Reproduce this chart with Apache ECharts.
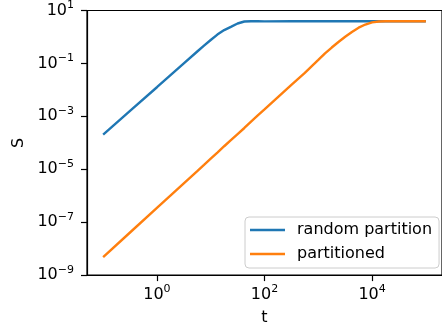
<!DOCTYPE html>
<html>
<head>
<meta charset="utf-8">
<script src="https://cdn.jsdelivr.net/npm/echarts@6/dist/echarts.min.js"></script>
<style>
  html, body { margin: 0; padding: 0; background: #fff; }
  #chart { width: 442px; height: 331px; }
</style>
</head>
<body>
<div id="chart"></div>
<script>
// time points (t) shared by both curves
const tValues = [0.1, 0.316, 1, 3.16, 5.62, 7.5, 10, 13.3, 17.8, 23.7, 31.6, 42.2, 56.2, 75, 100, 316, 562,
    1000, 1333, 1778, 2371, 3162, 4217, 5623, 7499, 10000, 13335, 17783, 31623, 100000];

// S for "random partition"
const randomS = [2.04e-4, 1.62e-3, 0.0126, 0.1, 0.282, 0.468, 0.77, 1.23, 1.82, 2.42, 3.23, 3.84, 3.94, 3.94, 3.88, 3.94, 3.92,
    3.94, 3.94, 3.92, 3.94, 3.93, 3.94, 3.94, 3.93, 3.94, 3.94, 3.94, 3.94, 3.94];

// S for "partitioned"
const partitionedS = [4.79e-9, 4.07e-8, 3.47e-7, 2.95e-6, 8.51e-6, 1.46e-5, 2.51e-5, 4.27e-5, 7.41e-5, 1.26e-4, 2.14e-4, 3.63e-4, 6.31e-4, 1.08e-3, 1.82e-3, 0.0155, 0.0437,
    0.135, 0.24, 0.398, 0.646, 1.02, 1.55, 2.24, 2.95, 3.55, 3.85, 3.94, 3.94, 3.94];

const xTicks = [1, 100, 10000];
const yTicks = [1e-9, 1e-7, 1e-5, 1e-3, 1e-1, 10];

const seriesNames = ['random partition', 'partitioned'];
const colors = ['#1f77b4', '#ff7f0e'];

function pairs(ys) {
    return tValues.map((t, i) => [t, ys[i]]);
}

// 10^n with a raised exponent
function powLabel(v) {
    const e = Math.round(Math.log10(v));
    return '10{sup|' + (e < 0 ? '\u2212' + (-e) : e) + '}';
}

const font = 'DejaVu Sans';
const labelStyle = {
    color: '#000',
    fontFamily: font,
    fontSize: 16,
    lineHeight: 21,
    formatter: powLabel,
    rich: {
        sup: { fontFamily: font, fontSize: 11, lineHeight: 11, verticalAlign: 'top', color: '#000' }
    }
};

const chart = echarts.init(document.getElementById('chart'));

chart.setOption({
    animation: false,
    grid: {
        left: 87, top: 8, right: -6, bottom: 53,
        show: true, borderColor: '#000', borderWidth: 1.2
    },
    legend: {
        orient: 'vertical',
        left: 245, top: 217,
        padding: [5, 7, 6, 5],
        icon: 'rect',
        itemWidth: 35, itemHeight: 2.5, itemGap: 8,
        borderColor: '#cccccc', borderWidth: 1, borderRadius: 4,
        backgroundColor: 'rgba(255,255,255,0.8)',
        textStyle: { fontFamily: font, fontSize: 16, lineHeight: 16, color: '#000', padding: [0, 0, 0, 7] },
        data: seriesNames
    },
    xAxis: {
        type: 'log',
        min: 0.0501, max: 199526,
        name: 't', nameLocation: 'middle', nameGap: 33,
        nameTextStyle: { fontFamily: font, fontSize: 16, color: '#000' },
        axisLine: { lineStyle: { color: '#000', width: 1.2 } },
        axisTick: { customValues: xTicks, length: 6, lineStyle: { color: '#000', width: 1.2 } },
        axisLabel: Object.assign({ customValues: xTicks, margin: 9 }, labelStyle),
        splitLine: { show: false },
        minorTick: { show: false }
    },
    yAxis: {
        type: 'log',
        min: 1e-9, max: 10,
        name: 'S', nameLocation: 'middle', nameGap: 56,
        nameTextStyle: { fontFamily: font, fontSize: 16, color: '#000' },
        axisLine: { lineStyle: { color: '#000', width: 1.2 } },
        axisTick: { customValues: yTicks, length: 6, lineStyle: { color: '#000', width: 1.2 } },
        axisLabel: Object.assign({ customValues: yTicks, margin: 13 }, labelStyle),
        splitLine: { show: false },
        minorTick: { show: false }
    },
    series: [
        {
            name: seriesNames[0], type: 'line', data: pairs(randomS),
            symbol: 'none', color: colors[0],
            lineStyle: { width: 2.4, color: colors[0] }
        },
        {
            name: seriesNames[1], type: 'line', data: pairs(partitionedS),
            symbol: 'none', color: colors[1],
            lineStyle: { width: 2.4, color: colors[1] }
        }
    ]
});
</script>
</body>
</html>
